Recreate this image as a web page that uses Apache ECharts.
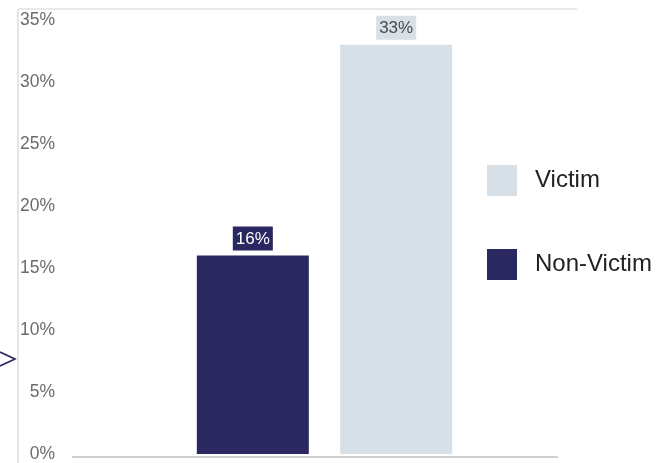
<!DOCTYPE html>
<html>
<head>
<meta charset="utf-8">
<script src="https://cdn.jsdelivr.net/npm/echarts@6/dist/echarts.min.js"></script>
<style>
  html, body { margin: 0; padding: 0; background: #fff; }
  #chart { width: 664px; height: 463px; }
</style>
</head>
<body>
<div id="chart"></div>
<script>
// Share of respondents, by victimisation status
const categories = ['All'];
const nonVictimValues = [16];
const victimValues = [33];
const legendOrder = ['Victim', 'Non-Victim'];
const yTicks = { min: 0, max: 35, interval: 5 };

const NAVY = '#2b2761';
const PALE = '#d8e0e7';
const FONT = '"Liberation Sans", Arial, Helvetica, sans-serif';

const chart = echarts.init(document.getElementById('chart'), null, { renderer: 'canvas' });

chart.setOption({
  animation: false,
  backgroundColor: '#fff',
  grid: { left: 72, right: 87, top: 20, bottom: 7, containLabel: false },
  legend: {
    data: legendOrder,
    orient: 'vertical',
    left: 487,
    top: 165,
    padding: 0,
    itemWidth: 30,
    itemHeight: 31,
    itemGap: 53,
    icon: 'rect',
    textStyle: { fontFamily: FONT, fontSize: 24, color: '#222', padding: [0, 0, 0, 13] }
  },
  xAxis: {
    type: 'category',
    data: categories,
    axisLine: { show: false },
    axisTick: { show: false },
    axisLabel: { show: false },
    splitLine: { show: false }
  },
  yAxis: {
    type: 'value',
    min: yTicks.min,
    max: yTicks.max,
    interval: yTicks.interval,
    axisLine: { show: false },
    axisTick: { show: false },
    splitLine: { show: false },
    axisLabel: {
      formatter: '{value}%',
      margin: 17,
      fontFamily: FONT,
      fontSize: 17.5,
      color: '#6b6b6b'
    }
  },
  series: [
    {
      name: 'Non-Victim',
      type: 'bar',
      data: nonVictimValues,
      barWidth: 112,
      barGap: '28%',
      itemStyle: { color: NAVY },
      label: {
        show: true,
        position: 'top',
        distance: 5,
        formatter: '{c}%',
        fontFamily: FONT,
        fontSize: 17,
        color: '#fff',
        backgroundColor: NAVY,
        padding: [4, 3, 3, 3]
      }
    },
    {
      name: 'Victim',
      type: 'bar',
      data: victimValues,
      barWidth: 112,
      itemStyle: { color: PALE },
      label: {
        show: true,
        position: 'top',
        distance: 5,
        formatter: '{c}%',
        fontFamily: FONT,
        fontSize: 17,
        color: '#4a4a4a',
        backgroundColor: PALE,
        padding: [4, 3, 3, 3]
      }
    }
  ],
  graphic: [
    // frame lines
    { type: 'line', shape: { x1: 18, y1: 9, x2: 577, y2: 9 }, style: { stroke: '#d4d4d4', lineWidth: 1.2 }, silent: true },
    { type: 'line', shape: { x1: 18, y1: 9, x2: 18, y2: 463 }, style: { stroke: '#d4d4d4', lineWidth: 1.2 }, silent: true },
    // baseline
    { type: 'line', shape: { x1: 72, y1: 457, x2: 558, y2: 457 }, style: { stroke: '#cfcfcf', lineWidth: 2 }, silent: true },
    // partial chevron at the left edge
    { type: 'polyline', shape: { points: [[0, 352], [15, 359], [0, 366]] }, style: { stroke: NAVY, lineWidth: 1.6, fill: null }, silent: true }
  ]
});
</script>
</body>
</html>
